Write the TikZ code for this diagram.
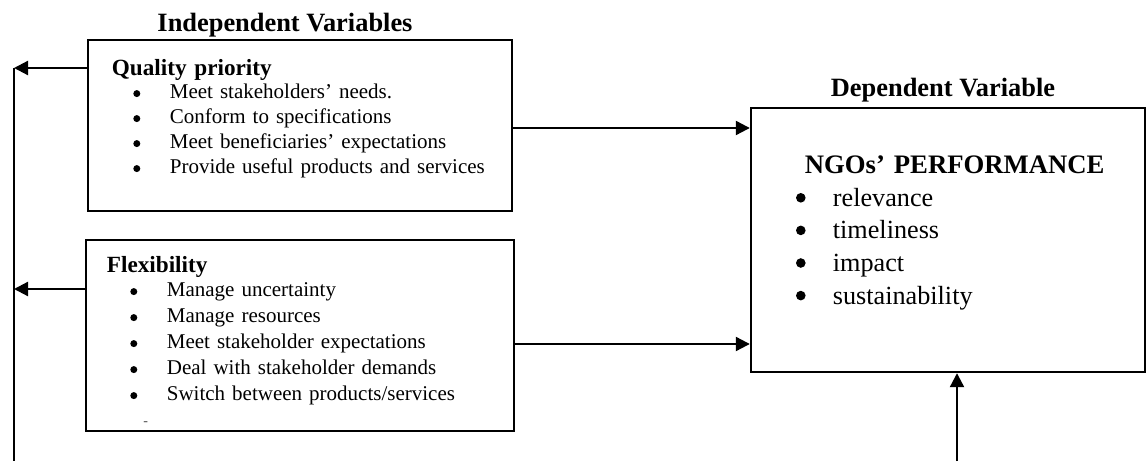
\documentclass[tikz,border=0pt]{standalone}
\usepackage{fontspec}
\setmainfont{Liberation Serif}
\usetikzlibrary{arrows.meta,positioning}

\begin{document}
\begin{tikzpicture}[->,>={Triangle[length=7pt,width=7pt]},line width=1.1pt]
\tikzstyle{box}=[draw,rectangle,line width=1.2pt,inner sep=0pt]
\tikzstyle{title}=[font=\bfseries\fontsize{13.2}{15}\selectfont,anchor=base,inner sep=0pt]
\tikzstyle{qtext}=[font=\fontsize{10.5}{12}\selectfont,text width=190pt,align=left,inner sep=0pt,text height=8pt,text depth=3pt]
\tikzstyle{ptext}=[font=\fontsize{13.1}{15}\selectfont,text width=160pt,align=left,inner sep=0pt,text height=10pt,text depth=3.5pt]
\tikzset{indent/.style={execute at begin node={\hspace*{#1}}}}

\useasboundingbox (0,0) rectangle (573pt,230.5pt);

\node[box,minimum width=212pt,minimum height=85.5pt] (quality) at (150pt,167.75pt) {};
\node[box,minimum width=214pt,minimum height=95.5pt] (flex) [below of=quality,node distance=105pt] {};
\node[box,minimum width=197pt,minimum height=132pt] (perf) [on grid,below right=57.25pt and 324pt of quality] {};

\node[title] (indep) at ([xshift=-7.5pt,yshift=3.5pt]quality.north) {Independent Variables};
\node[title] (dep) at ([xshift=-2.5pt,yshift=5pt]perf.north) {Dependent Variable};

% quality priority
\node[qtext,anchor=base west,font=\bfseries\fontsize{11.6}{13}\selectfont] (qhead) at ([xshift=12pt,yshift=-18.3pt]quality.north west) {Quality priority};
\node[qtext,indent=29pt] (q1) [below of=qhead,node distance=11.7pt] {Meet stakeholders’ needs.};
\node[qtext,indent=29pt] (q2) [below of=q1,node distance=12.5pt] {Conform to specifications};
\node[qtext,indent=29pt] (q3) [below of=q2,node distance=12.5pt] {Meet beneficiaries’ expectations};
\node[qtext,indent=29pt] (q4) [below of=q3,node distance=12.5pt] {Provide useful products and services};

% flexibility
\node[qtext,anchor=base west,font=\bfseries\fontsize{11.6}{13}\selectfont] (fhead) at ([xshift=10.5pt,yshift=-17pt]flex.north west) {Flexibility};
\node[qtext,indent=30pt] (f1) [below of=fhead,node distance=12pt] {Manage uncertainty};
\node[qtext,indent=30pt] (f2) [below of=f1,node distance=13pt] {Manage resources};
\node[qtext,indent=30pt] (f3) [below of=f2,node distance=13pt] {Meet stakeholder expectations};
\node[qtext,indent=30pt] (f4) [below of=f3,node distance=13pt] {Deal with stakeholder demands};
\node[qtext,indent=30pt] (f5) [below of=f4,node distance=13pt] {Switch between products/services};
\node[font=\fontsize{7}{8}\selectfont,text=black!70,inner sep=0pt] (dash) at ([xshift=30.5pt,yshift=4.5pt]flex.south west) {-};

% performance
\node[ptext,anchor=base west,font=\bfseries\fontsize{13.35}{15}\selectfont] (phead) at ([xshift=27pt,yshift=-33.5pt]perf.north west) {NGOs’ PERFORMANCE};
\node[ptext,indent=14pt] (p1) [below of=phead,node distance=16.3pt] {relevance};
\node[ptext,indent=14pt] (p2) [below of=p1,node distance=16.3pt] {timeliness};
\node[ptext,indent=14pt] (p3) [below of=p2,node distance=16.3pt] {impact};
\node[ptext,indent=14pt] (p4) [below of=p3,node distance=16.3pt] {sustainability};

% bullets
\foreach \n in {q1,q2,q3,q4}
  \fill ([xshift=13pt,yshift=2.6pt]\n.base west) circle (1.75pt);
\foreach \n in {f1,f2,f3,f4,f5}
  \fill ([xshift=14pt,yshift=2.6pt]\n.base west) circle (1.75pt);
\foreach \n in {p1,p2,p3,p4}
  \fill ([xshift=-1.5pt,yshift=4.3pt]\n.base west) circle (2.4pt);

\coordinate (qout) at ([yshift=-1.25pt]quality.east);
\coordinate (fout) at ([yshift=-4.25pt]flex.east);
\coordinate (qback) at ([yshift=28.75pt]quality.west);
\coordinate (fback) at ([yshift=23.25pt]flex.west);
\coordinate (leftbot) at (7pt,0pt);
\coordinate (lefttop) at (qback -| leftbot);
\coordinate (botin) at (478.5pt,0pt);

\draw (qout) -- (qout -| perf.west);
\draw (fout) -- (fout -| perf.west);
\draw (qback) -- (lefttop);
\draw (fback) -- (fback -| lefttop);
\draw[-] (lefttop) -- (leftbot);
\draw (botin) -- (botin |- perf.south);
\end{tikzpicture}
\end{document}
